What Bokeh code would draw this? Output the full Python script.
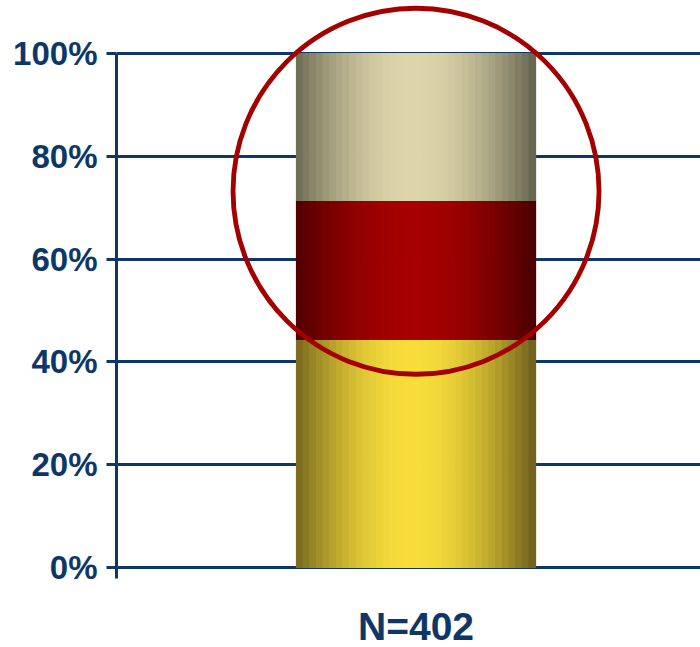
import math
from bokeh.plotting import figure
from bokeh.models import Range1d, FixedTicker, ColumnDataSource
from bokeh.core.properties import value
from bokeh.embed import file_html
from bokeh.resources import INLINE

# ---- data ----
categories = ["N=402"]
segment_names = ["bottom", "middle", "top"]
segment_values = [44.4, 27.0, 28.6]          # percent, stacked bottom -> top
y_ticks = [0, 20, 40, 60, 80, 100]
y_tick_labels = ["0%", "20%", "40%", "60%", "80%", "100%"]
highlighted = ["middle", "top"]               # segments circled in red

# ---- style ----
NAVY = "#0E3768"
edge_colors = {"bottom": (0x6A, 0x5C, 0x1C), "middle": (0x48, 0x00, 0x00), "top": (0x62, 0x61, 0x4C)}
center_colors = {"bottom": (0xF8, 0xDD, 0x3A), "middle": (0xA6, 0x00, 0x00), "top": (0xDD, 0xD5, 0xAA)}
BAR_X = 0.0
BAR_W = 1.0
N_SLICES = 36
Y_START = -15.56
AXIS_BOTTOM = -2.14
CAT_LABEL_Y = -11.5

p = figure(width=700, height=647, output_backend="svg", toolbar_location=None,
           x_range=Range1d(-1.253, 1.19), y_range=Range1d(Y_START, 109.53),
           min_border_left=116, min_border_right=0, min_border_top=4, min_border_bottom=0,
           x_axis_location=None)
p.outline_line_color = None
p.background_fill_color = "white"
p.border_fill_color = "white"

# gradient-filled stacked bar drawn as thin vertical slices
xs, ws, bots, tops, cols = [], [], [], [], []
bottom = 0.0
for name, v in zip(segment_names, segment_values):
    top = bottom + v
    e, c = edge_colors[name], center_colors[name]
    for i in range(N_SLICES):
        t = (i + 0.5) / N_SLICES
        f = math.sin(math.pi * min(1.0, t * 0.98 + 0.02)) ** 0.9
        rgb = tuple(int(round(e[k] + (c[k] - e[k]) * f)) for k in range(3))
        xs.append(BAR_X - BAR_W / 2 + (i + 0.5) * BAR_W / N_SLICES)
        ws.append(BAR_W / N_SLICES)
        bots.append(bottom)
        tops.append(top)
        cols.append("#%02x%02x%02x" % rgb)
    bottom = top
src = ColumnDataSource(dict(x=xs, w=ws, b=bots, t=tops, c=cols))
p.vbar(x="x", width="w", bottom="b", top="t", fill_color="c", line_color="c",
       line_width=1.2, source=src)

# red highlight circle around the highlighted segments
cum = 0.0
lo, hi = None, None
for name, v in zip(segment_names, segment_values):
    if name in highlighted:
        lo = cum if lo is None else lo
        hi = cum + v
    cum += v
p.scatter(x=[BAR_X], y=[(lo + hi) / 2 + 1.0], marker="circle", size=366,
          fill_color=None, line_color="#A30000", line_width=4.8)

# category label under the bar
p.text(x=[BAR_X], y=[CAT_LABEL_Y], text=categories, text_align="center",
       text_baseline="alphabetic", text_font=value("Liberation Sans"),
       text_font_style="bold", text_font_size="39px", text_color=NAVY)

# y axis
yax = p.yaxis[0]
yax.ticker = FixedTicker(ticks=y_ticks)
yax.major_label_overrides = {t: l for t, l in zip(y_ticks, y_tick_labels)}
yax.bounds = (AXIS_BOTTOM, 100)
yax.axis_line_color = NAVY
yax.axis_line_width = 3
yax.major_tick_line_color = NAVY
yax.major_tick_line_width = 3
yax.major_tick_out = 10
yax.major_tick_in = 0
yax.minor_tick_line_color = None
yax.major_label_text_font = "Liberation Sans"
yax.major_label_text_font_style = "bold"
yax.major_label_text_font_size = "33px"
yax.major_label_text_color = NAVY
yax.major_label_standoff = 9

# grid
p.xgrid.grid_line_color = None
p.ygrid.ticker = FixedTicker(ticks=y_ticks)
p.ygrid.grid_line_color = NAVY
p.ygrid.grid_line_width = 3

open("out.html", "w").write(file_html(p, INLINE))
